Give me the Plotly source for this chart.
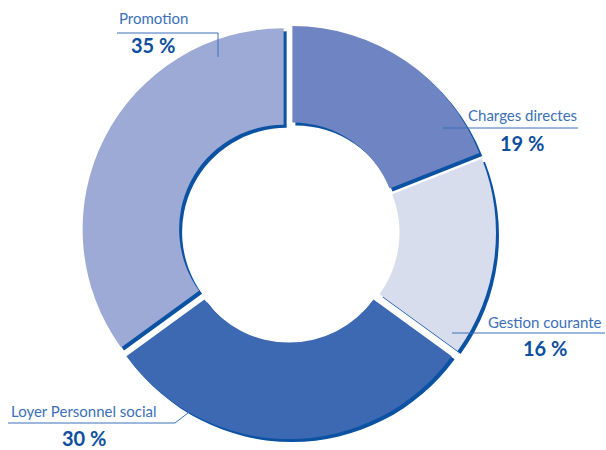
import plotly.graph_objects as go

labels = ["Charges directes", "Gestion courante", "Loyer Personnel social", "Promotion"]
values = [19, 16, 30, 35]
pct_text = ["19 %", "16 %", "30 %", "35 %"]
colors = ["#6e84c3", "#d8ddee", "#3d69b3", "#9daad6"]
shadow_color = "#0b52a3"

W, H = 606, 450
cx, cy, R, pull = 289, 232, 201, 0.03
half = R * (1 + pull)

def dom(dx=0, dy=0):
    return dict(x=[(cx - half + dx) / W, (cx + half + dx) / W],
                y=[1 - (cy + half + dy) / H, 1 - (cy - half + dy) / H])

fig = go.Figure()
fig.add_trace(go.Pie(labels=labels, values=values, sort=False, direction="clockwise",
                     rotation=0, hole=0.52, pull=[pull] * 4, textinfo="none",
                     marker=dict(colors=[shadow_color] * 4, line=dict(width=0)),
                     domain=dom(3, 3), showlegend=False, hoverinfo="skip"))
fig.add_trace(go.Pie(labels=labels, values=values, sort=False, direction="clockwise",
                     rotation=0, hole=0.52, pull=[pull] * 4, textinfo="none",
                     marker=dict(colors=colors, line=dict(width=0)),
                     domain=dom(0, 0), showlegend=False))

name_color = "#3b70b8"
pct_color = "#0d4f9e"
font = "Lato, 'Open Sans', sans-serif"

lab = [
    dict(i=0, x=522, yn=115, yp=143),
    dict(i=1, x=545, yn=322, yp=348),
    dict(i=2, x=84, yn=411, yp=438),
    dict(i=3, x=153, yn=18, yp=45),
]
for d in lab:
    fig.add_annotation(x=d["x"] / W, y=1 - d["yn"] / H, xref="paper", yref="paper",
                       xanchor="center", yanchor="middle",
                       text=labels[d["i"]], showarrow=False,
                       font=dict(family=font, size=15, color=name_color))
    fig.add_annotation(x=d["x"] / W, y=1 - d["yp"] / H, xref="paper", yref="paper",
                       xanchor="center", yanchor="middle",
                       text="<b>" + pct_text[d["i"]] + "</b>", showarrow=False,
                       font=dict(family=font, size=20, color=pct_color))

lines = [
    [(443, 128), (578, 128)],
    [(452, 333), (605, 333)],
    [(8, 423), (175, 423), (210, 396)],
    [(117, 33), (218, 33), (218, 57)],
]
for pts in lines:
    for (x0, y0), (x1, y1) in zip(pts[:-1], pts[1:]):
        fig.add_shape(type="line", xref="paper", yref="paper",
                      x0=x0 / W, y0=1 - y0 / H, x1=x1 / W, y1=1 - y1 / H,
                      line=dict(color=name_color, width=1))

fig.update_layout(width=W, height=H, margin=dict(l=0, r=0, t=0, b=0),
                  paper_bgcolor="white", plot_bgcolor="white")
fig.write_html("out.html", config={"displayModeBar": False},
               post_script="document.body.style.margin='0';document.body.style.overflow='hidden';")
